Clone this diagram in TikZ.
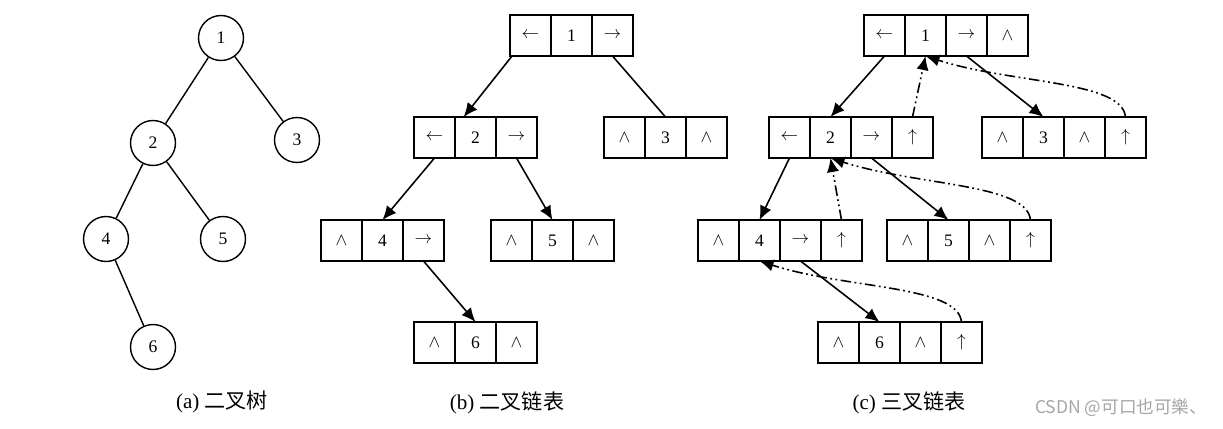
\documentclass[tikz,border=0pt]{standalone}
\usepackage{fontspec}
\setmainfont{Liberation Serif}
\newfontfamily\cjk{Noto Sans CJK SC}
\usetikzlibrary{arrows.meta, positioning}

\begin{document}
\begin{tikzpicture}[x=0.02cm, y=0.02cm, font=\normalsize,
  tnode/.style={circle, draw, line width=0.8pt, minimum size=0.9cm, inner sep=0pt},
  cell/.style={draw, line width=0.8pt, minimum size=0.82cm, inner sep=0pt, outer sep=0pt},
  edge/.style={line width=0.8pt},
  link/.style={line width=0.9pt, -{Latex[length=8pt,width=7pt]}},
  plink/.style={link, dash pattern=on 6pt off 2pt on 1pt off 2pt on 1pt off 2pt},
  arch/.style={out=95, in=-18, out looseness=0.45, in looseness=1.1}]

  \useasboundingbox (0,0) rectangle (1223,-429);

  % (a) binary tree
  \node[tnode] (a1) at (221,-38) {1};
  \node[tnode] (a2) at (153,-143) {2};
  \node[tnode] (a3) at (297,-140) {3};
  \node[tnode] (a4) at (106,-239) {4};
  \node[tnode] (a5) at (223,-239) {5};
  \node[tnode] (a6) at (153,-347) {6};
  \draw[edge] (a1) -- (a2);
  \draw[edge] (a1) -- (a3);
  \draw[edge] (a2) -- (a4);
  \draw[edge] (a2) -- (a5);
  \draw[edge] (a4) -- (a6);

  % (b) binary linked list
  \node[cell] (b1l) at (530.5,-35.5) {$\leftarrow$};
  \node[cell, right=0pt of b1l] (b1d) {1};
  \node[cell, right=0pt of b1d] (b1r) {$\rightarrow$};

  \node[cell] (b2l) at (434.5,-137.5) {$\leftarrow$};
  \node[cell, right=0pt of b2l] (b2d) {2};
  \node[cell, right=0pt of b2d] (b2r) {$\rightarrow$};

  \node[cell] (b3l) at (624.5,-137.5) {$\wedge$};
  \node[cell, right=0pt of b3l] (b3d) {3};
  \node[cell, right=0pt of b3d] (b3r) {$\wedge$};

  \node[cell] (b4l) at (341.5,-240.5) {$\wedge$};
  \node[cell, right=0pt of b4l] (b4d) {4};
  \node[cell, right=0pt of b4d] (b4r) {$\rightarrow$};

  \node[cell] (b5l) at (511.5,-240.5) {$\wedge$};
  \node[cell, right=0pt of b5l] (b5d) {5};
  \node[cell, right=0pt of b5d] (b5r) {$\wedge$};

  \node[cell] (b6l) at (434.5,-342.5) {$\wedge$};
  \node[cell, right=0pt of b6l] (b6d) {6};
  \node[cell, right=0pt of b6d] (b6r) {$\wedge$};

  \draw[link] (b1l.-132) -- (b2d.120);
  \draw[edge, line width=0.9pt] (b1r.south) -- (b3d.north);
  \draw[link] (b2l.south) -- (b4d.north);
  \draw[link] (b2r.south) -- (b5d.north);
  \draw[link] (b4r.south) -- (b6d.north);

  % (c) trinary linked list
  \node[cell] (c1l) at (884.5,-35.5) {$\leftarrow$};
  \node[cell, right=0pt of c1l] (c1d) {1};
  \node[cell, right=0pt of c1d] (c1r) {$\rightarrow$};
  \node[cell, right=0pt of c1r] (c1p) {$\wedge$};

  \node[cell] (c2l) at (789.5,-137.5) {$\leftarrow$};
  \node[cell, right=0pt of c2l] (c2d) {2};
  \node[cell, right=0pt of c2d] (c2r) {$\rightarrow$};
  \node[cell, right=0pt of c2r] (c2p) {$\uparrow$};

  \node[cell] (c3l) at (1002.5,-137.5) {$\wedge$};
  \node[cell, right=0pt of c3l] (c3d) {3};
  \node[cell, right=0pt of c3d] (c3r) {$\wedge$};
  \node[cell, right=0pt of c3r] (c3p) {$\uparrow$};

  \node[cell] (c4l) at (718.5,-240.5) {$\wedge$};
  \node[cell, right=0pt of c4l] (c4d) {4};
  \node[cell, right=0pt of c4d] (c4r) {$\rightarrow$};
  \node[cell, right=0pt of c4r] (c4p) {$\uparrow$};

  \node[cell] (c5l) at (907.5,-240.5) {$\wedge$};
  \node[cell, right=0pt of c5l] (c5d) {5};
  \node[cell, right=0pt of c5d] (c5r) {$\wedge$};
  \node[cell, right=0pt of c5r] (c5p) {$\uparrow$};

  \node[cell] (c6l) at (838.5,-342.5) {$\wedge$};
  \node[cell, right=0pt of c6l] (c6d) {6};
  \node[cell, right=0pt of c6d] (c6r) {$\wedge$};
  \node[cell, right=0pt of c6r] (c6p) {$\uparrow$};

  \draw[link] (c1l.south) -- (c2d.north);
  \draw[link] (c1r.south) -- (c3d.north);
  \draw[link] (c2l.south) -- (c4d.north);
  \draw[link] (c2r.south) -- (c5d.north);
  \draw[link] (c4r.south) -- (c6d.north);

  % parent pointers
  \draw[plink] (c2p.north) -- (c1d.south);
  \draw[plink] (c3p.north) to[arch] (c1d.south);
  \draw[plink] (c4p.north) -- (c2d.south);
  \draw[plink] (c5p.north) to[arch] (c2d.south);
  \draw[plink] (c6p.north) to[arch] (c4d.south);

  % captions
  \node[font=\large] (capa) at (222,-402) {(a)\ {\cjk 二叉树}};
  \node[font=\large] (capb) at (507,-403) {(b)\ {\cjk 二叉链表}};
  \node[font=\large] (capc) at (909,-403) {(c)\ {\cjk 三叉链表}};
  \node[text=gray!70, font=\cjk\normalsize] (mark) at (1121,-408) {CSDN @可口也可樂、};
\end{tikzpicture}
\end{document}
